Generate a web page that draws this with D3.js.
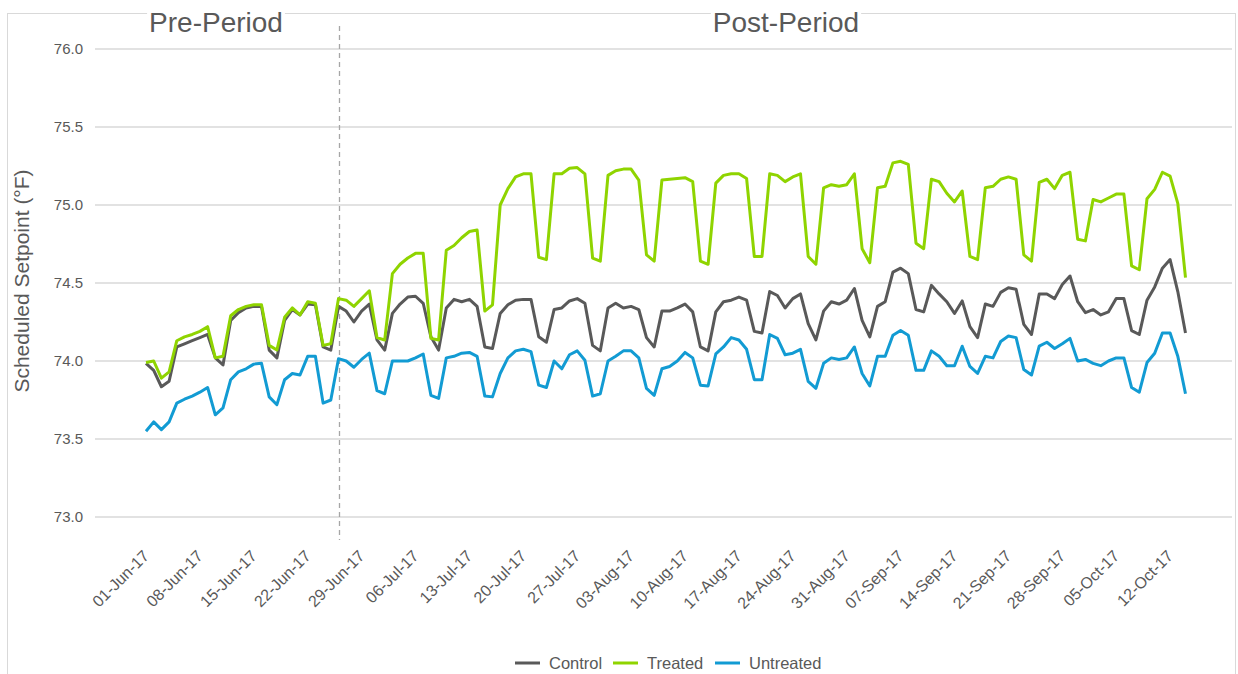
<!DOCTYPE html>
<html>
<head>
<meta charset="utf-8">
<script src="https://cdn.jsdelivr.net/npm/d3@7"></script>
<style>
  body { margin: 0; background: #fff; }
  svg { font-family: "Liberation Sans", Arial, sans-serif; }
</style>
</head>
<body>
<svg width="1238" height="674"></svg>
<script>
// daily values, 01-Jun-17 .. 14-Oct-17
var firstDay = "01-Jun-17";
var splitDay = "26-Jun-17";

var control = [73.985,73.94,73.835,73.87,74.09,74.11,74.13,74.15,74.17,74.02,73.975,74.26,74.31,74.34,74.35,74.35,
  74.07,74.02,74.26,74.33,74.295,74.365,74.36,74.09,74.07,74.35,74.32,74.25,74.32,74.365,74.135,74.07,
  74.305,74.365,74.41,74.415,74.37,74.155,74.07,74.34,74.395,74.38,74.395,74.35,74.09,74.08,74.305,74.36,
  74.39,74.395,74.395,74.155,74.12,74.33,74.34,74.385,74.40,74.37,74.10,74.065,74.34,74.37,74.34,74.35,
  74.33,74.15,74.09,74.32,74.32,74.34,74.365,74.315,74.09,74.065,74.315,74.38,74.39,74.41,74.39,74.19,
  74.18,74.445,74.42,74.34,74.40,74.43,74.24,74.135,74.32,74.38,74.365,74.39,74.465,74.26,74.155,74.35,
  74.38,74.57,74.595,74.56,74.33,74.315,74.485,74.43,74.38,74.305,74.385,74.22,74.15,74.365,74.35,74.44,
  74.47,74.46,74.235,74.17,74.43,74.43,74.40,74.49,74.545,74.38,74.31,74.33,74.295,74.315,74.40,74.40,
  74.195,74.17,74.39,74.475,74.595,74.65,74.445,74.18];

var treated = [73.99,74.00,73.89,73.93,74.13,74.155,74.17,74.19,74.22,74.02,74.03,74.29,74.33,74.35,74.36,74.36,
  74.10,74.07,74.28,74.34,74.295,74.38,74.37,74.10,74.11,74.40,74.39,74.35,74.40,74.45,74.15,74.135,
  74.56,74.62,74.66,74.69,74.69,74.145,74.135,74.71,74.74,74.79,74.83,74.84,74.32,74.36,75.00,75.105,
  75.18,75.20,75.20,74.665,74.65,75.20,75.20,75.235,75.24,75.20,74.66,74.64,75.19,75.22,75.23,75.23,
  75.16,74.68,74.64,75.16,75.165,75.17,75.175,75.15,74.64,74.62,75.14,75.19,75.20,75.20,75.17,74.67,
  74.67,75.20,75.19,75.15,75.18,75.20,74.67,74.62,75.11,75.13,75.12,75.13,75.20,74.72,74.63,75.11,
  75.12,75.27,75.28,75.26,74.755,74.72,75.165,75.15,75.075,75.02,75.09,74.67,74.65,75.11,75.12,75.165,
  75.18,75.165,74.68,74.64,75.145,75.165,75.105,75.19,75.21,74.78,74.77,75.035,75.02,75.045,75.07,75.07,
  74.61,74.585,75.04,75.10,75.21,75.185,75.01,74.535];

var untreated = [73.55,73.61,73.56,73.61,73.73,73.755,73.775,73.80,73.83,73.655,73.70,73.88,73.93,73.95,73.98,73.985,
  73.77,73.72,73.88,73.92,73.91,74.03,74.03,73.73,73.75,74.015,74.00,73.96,74.01,74.05,73.81,73.79,
  74.00,74.00,74.00,74.02,74.045,73.78,73.76,74.02,74.03,74.05,74.055,74.03,73.775,73.77,73.92,74.02,
  74.065,74.075,74.06,73.845,73.83,74.00,73.95,74.04,74.065,74.005,73.775,73.79,74.00,74.03,74.065,74.065,
  74.02,73.825,73.78,73.95,73.965,74.00,74.055,74.02,73.845,73.84,74.045,74.09,74.15,74.135,74.075,73.88,
  73.88,74.17,74.145,74.04,74.05,74.075,73.87,73.825,73.985,74.02,74.01,74.02,74.09,73.92,73.84,74.03,
  74.03,74.165,74.195,74.165,73.94,73.94,74.065,74.03,73.97,73.97,74.095,73.965,73.92,74.03,74.02,74.125,
  74.16,74.15,73.945,73.91,74.095,74.12,74.08,74.11,74.145,74.00,74.01,73.985,73.97,74.00,74.02,74.02,
  73.83,73.80,73.99,74.05,74.18,74.18,74.03,73.79];

var tickLabels = ["01-Jun-17","08-Jun-17","15-Jun-17","22-Jun-17","29-Jun-17","06-Jul-17","13-Jul-17",
  "20-Jul-17","27-Jul-17","03-Aug-17","10-Aug-17","17-Aug-17","24-Aug-17","31-Aug-17","07-Sep-17",
  "14-Sep-17","21-Sep-17","28-Sep-17","05-Oct-17","12-Oct-17"];
var yTicks = [73.0, 73.5, 74.0, 74.5, 75.0, 75.5, 76.0];

var seriesNames = ["Control", "Treated", "Untreated"];
var seriesColors = ["#595959", "#8fd400", "#129bd3"];
var periodLabels = ["Pre-Period", "Post-Period"];

var parse = d3.utcParse("%d-%b-%y");
var start = parse(firstDay);
var dates = control.map(function(d, i) { return d3.utcDay.offset(start, i); });

var svg = d3.select("svg"),
    textColor = "#595959",
    grid = "#d9d9d9";

// outer frame
svg.append("rect")
    .attr("x", 7.5).attr("y", 13.5)
    .attr("width", 1228).attr("height", 680)
    .attr("fill", "none").attr("stroke", grid);

var x = d3.scaleUtc()
    .domain([start, dates[dates.length - 1]])
    .range([146, 1185.5]);
var y = d3.scaleLinear()
    .domain([73, 76])
    .range([517, 49]);

// gridlines + y labels
var gy = svg.append("g");
gy.selectAll("line").data(yTicks).enter().append("line")
    .attr("x1", 95).attr("x2", 1232)
    .attr("y1", function(d) { return y(d); })
    .attr("y2", function(d) { return y(d); })
    .attr("stroke", grid).attr("stroke-width", 1.5);
gy.selectAll("text").data(yTicks).enter().append("text")
    .attr("x", 83)
    .attr("y", function(d) { return y(d); })
    .attr("dy", "0.35em")
    .attr("text-anchor", "end")
    .attr("font-size", 15)
    .attr("fill", textColor)
    .text(d3.format(".1f"));

svg.append("text")
    .attr("transform", "translate(29," + (y(74.5) - 2) + ") rotate(-90)")
    .attr("text-anchor", "middle")
    .attr("font-size", 21)
    .attr("fill", textColor)
    .text("Scheduled Setpoint (°F)");

// x labels
svg.append("g").selectAll("text")
    .data(tickLabels).enter().append("text")
    .attr("transform", function(d) {
        return "translate(" + (x(parse(d)) + 4) + ",557) rotate(-45)"; })
    .attr("text-anchor", "end")
    .attr("font-size", 16)
    .attr("fill", textColor)
    .text(function(d) { return d; });

// pre / post split
var sx = Math.round(x(parse(splitDay))) + 0.5;
svg.append("line")
    .attr("x1", sx).attr("x2", sx)
    .attr("y1", 26).attr("y2", 540)
    .attr("stroke", "#a6a6a6").attr("stroke-width", 1.3)
    .attr("stroke-dasharray", "5,4");

// period titles over frame
var titles = svg.append("g");
[[216, periodLabels[0]], [786, periodLabels[1]]].forEach(function(p) {
    var t = titles.append("text")
        .attr("x", p[0]).attr("y", 32)
        .attr("text-anchor", "middle")
        .attr("font-size", 28)
        .attr("fill", textColor)
        .text(p[1]);
    var b = t.node().getBBox();
    titles.insert("rect", "text")
        .attr("x", b.x - 2).attr("y", 8)
        .attr("width", b.width + 4).attr("height", 10)
        .attr("fill", "#fff");
});

// lines
var line = d3.line()
    .x(function(d, i) { return x(dates[i]); })
    .y(function(d) { return y(d); });

var all = [control, treated, untreated];
svg.append("g").selectAll("path")
    .data(all).enter().append("path")
    .attr("d", line)
    .attr("fill", "none")
    .attr("stroke", function(d, i) { return seriesColors[i]; })
    .attr("stroke-width", 3)
    .attr("stroke-linejoin", "round");

// legend
var legX = [515, 613, 715];
var leg = svg.append("g");
seriesNames.forEach(function(n, i) {
    leg.append("line")
        .attr("x1", legX[i]).attr("x2", legX[i] + 25)
        .attr("y1", 663).attr("y2", 663)
        .attr("stroke", seriesColors[i]).attr("stroke-width", 3);
    leg.append("text")
        .attr("x", legX[i] + 34).attr("y", 663)
        .attr("dy", "0.35em")
        .attr("font-size", 16.5)
        .attr("fill", textColor)
        .text(n);
});
</script>
</body>
</html>
